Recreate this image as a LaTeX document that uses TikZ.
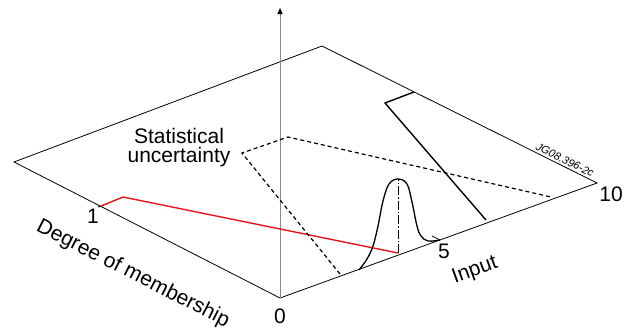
\documentclass[tikz,border=0pt]{standalone}
\usepackage{fontspec}
\setmainfont{Liberation Sans}
\usetikzlibrary{arrows.meta}
\definecolor{axisGrey}{HTML}{8A8A8A}
\definecolor{mfRed}{HTML}{E8141B}

\begin{document}
\begin{tikzpicture}[x=1pt,y=-1pt,
      lbl/.style={inner sep=0pt,font=\fontsize{21}{22}\selectfont},
      frame/.style={draw=black,line width=0.8pt},
      mf/.style={line width=1.4pt,line join=miter},
      unc/.style={line width=1.2pt,dash pattern=on 4pt off 3pt}]
    \useasboundingbox (0,0) rectangle (628,333);
    % corners of the plane
    \coordinate (O)    at (280,298);
    \coordinate (In10) at (597,183);
    \coordinate (Far)  at (322,46);
    \coordinate (Deg)  at (14,162);
    \draw[frame] (O) -- (In10) -- (Far) -- (Deg) -- cycle;
    % vertical axis
    \coordinate (Top) at (280,8);
    \draw[axisGrey,line width=1pt,-{Triangle[black,length=6pt,width=5pt]}] (O) -- (Top);
    % ticks
    \coordinate (d1)  at (98,207);
    \coordinate (d1b) at (108,203.5);
    \coordinate (i5)  at (440,240);
    \coordinate (i5b) at (432,236);
    \draw[line width=0.8pt] (d1) -- (d1b);
    \draw[line width=0.8pt] (i5) -- (i5b);
    % red membership
    \coordinate (r1) at (101,206);
    \coordinate (r2) at (123,197);
    \coordinate (r3) at (398,253);
    \draw[mf,mfRed] (r1) -- (r2) -- (r3);
    % statistical uncertainty
    \coordinate (s1) at (340,274);
    \coordinate (s2) at (242,153);
    \coordinate (s3) at (288,137);
    \coordinate (s4) at (551,197);
    \draw[unc] (s1) -- (s2) -- (s3) -- (s4);
    % black membership
    \coordinate (b1) at (486,220);
    \coordinate (b2) at (385,103);
    \coordinate (b3) at (414,92);
    \draw[mf] (b1) -- (b2) -- (b3);
    % gaussian
    \coordinate (gPeak) at (398,179);
    \draw[line width=1.3pt] plot[smooth,tension=0.6] coordinates {(359,270) (367,259) (373,246)
        (378,226) (383,201) (389,184) (398,179) (407,184) (412,202) (417,226) (421,236)
        (428,241) (440,240)};
    \draw[line width=0.9pt,dash pattern=on 9pt off 2pt on 1.5pt off 2pt] (r3) -- (gPeak);
    % labels
    \node[lbl] (zero) at (280,316) {0};
    \node[lbl] (one)  at (93,216) {1};
    \node[lbl] (five) at (444,251) {5};
    \node[lbl] (ten)  at (611,194) {10};
    \node[lbl,align=center,font=\fontsize{21}{19}\selectfont] (stat) at (179,148)
        {Statistical\\uncertainty};
    \node[lbl,rotate=-27] (deg) at (133,274) {Degree of membership};
    \node[lbl,rotate=20] (inp) at (475,271) {Input};
    \node[inner sep=0pt,rotate=-26.5,font=\fontsize{11}{11}\selectfont\itshape] (jg) at (565,160)
        {JG08.396-2c};
\end{tikzpicture}
\end{document}
